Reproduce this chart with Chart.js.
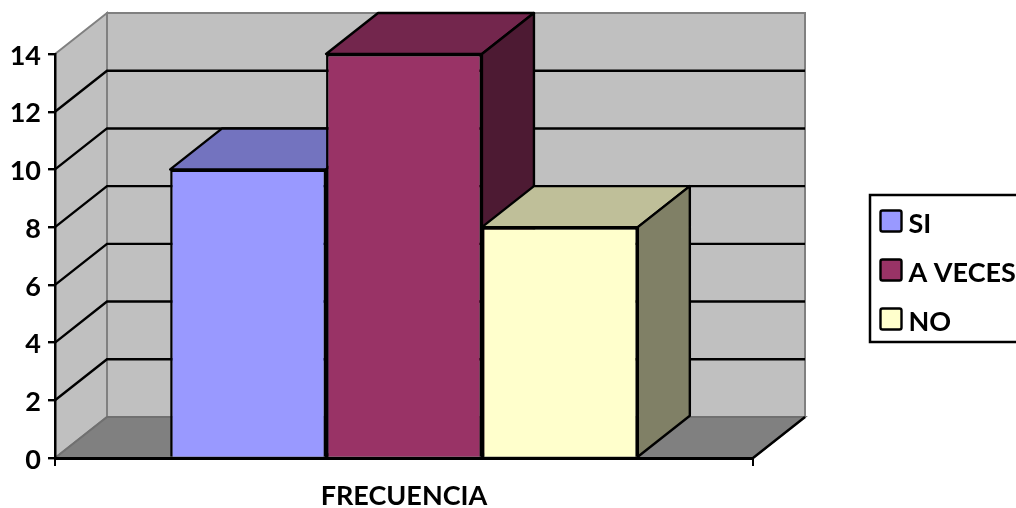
<!DOCTYPE html>
<html>
<head>
<meta charset="utf-8">
<script src="https://cdn.jsdelivr.net/npm/chart.js@4"></script>
<style>
  body { margin: 0; background: #fff; overflow: hidden; }
</style>
</head>
<body>
<canvas id="chart" width="1016" height="508"></canvas>
<script>
const categories = ["FRECUENCIA"];
const seriesNames = ["SI", "A VECES", "NO"];
const siValues = [10];
const aVecesValues = [14];
const noValues = [8];
const seriesColors = ["#9999ff", "#993366", "#ffffcc"];

// depth of the fake 3D box
const DX = 52;
const DY = 41;
const FONT = "bold 27px Lato";

function shade(hex, f) {
  const n = parseInt(hex.slice(1), 16);
  const r = Math.round(((n >> 16) & 255) * f);
  const g = Math.round(((n >> 8) & 255) * f);
  const b = Math.round((n & 255) * f);
  return `rgb(${r},${g},${b})`;
}

function poly(ctx, pts, fill, stroke, width) {
  ctx.beginPath();
  pts.forEach((p, i) => (i ? ctx.lineTo(p[0], p[1]) : ctx.moveTo(p[0], p[1])));
  ctx.closePath();
  if (fill) {
    ctx.fillStyle = fill;
    ctx.fill();
  }
  if (stroke) {
    ctx.strokeStyle = stroke;
    ctx.lineWidth = width;
    ctx.stroke();
  }
}

const box3d = {
  id: "box3d",
  // walls, floor and grid
  beforeDraw(chart) {
    const { ctx, chartArea: a, scales } = chart;
    const y = scales.y;
    ctx.save();
    poly(ctx, [[a.left + DX, a.top - DY], [a.right + DX, a.top - DY], [a.right + DX, a.bottom - DY], [a.left + DX, a.bottom - DY]], "#c0c0c0", "#808080", 2);
    poly(ctx, [[a.left, a.top], [a.left + DX, a.top - DY], [a.left + DX, a.bottom - DY], [a.left, a.bottom]], "#c0c0c0", "#808080", 2);
    poly(ctx, [[a.left, a.bottom], [a.right, a.bottom], [a.right + DX, a.bottom - DY], [a.left + DX, a.bottom - DY]], "#808080", "#707070", 2);

    ctx.strokeStyle = "#000";
    ctx.lineWidth = 2.4;
    y.ticks.forEach((t) => {
      if (t.value === y.min || t.value === y.max) return;
      const py = y.getPixelForValue(t.value);
      ctx.beginPath();
      ctx.moveTo(a.left, py);
      ctx.lineTo(a.left + DX, py - DY);
      ctx.lineTo(a.right + DX, py - DY);
      ctx.stroke();
    });
    ctx.beginPath();
    ctx.moveTo(a.right, a.bottom);
    ctx.lineTo(a.right + DX, a.bottom - DY);
    ctx.stroke();
    ctx.restore();
  },
  // top and side faces of the bars
  beforeDatasetsDraw(chart) {
    const { ctx } = chart;
    ctx.save();
    ctx.lineJoin = "round";
    chart.data.datasets.forEach((ds, i) => {
      const bar = chart.getDatasetMeta(i).data[0];
      const half = bar.width / 2;
      const l = bar.x - half;
      const r = bar.x + half;
      const t = bar.y;
      const b = bar.base;
      poly(ctx, [[l, t], [r, t], [r + DX, t - DY], [l + DX, t - DY]], shade(ds.backgroundColor, 0.75), "#000", 2.4);
      poly(ctx, [[r, t], [r + DX, t - DY], [r + DX, b - DY], [r, b]], shade(ds.backgroundColor, 0.5), "#000", 2.4);
    });
    ctx.restore();
  },
  afterDraw(chart) {
    const { ctx } = chart;
    ctx.save();
    ctx.fillStyle = "#fff";
    ctx.strokeStyle = "#000";
    ctx.lineWidth = 2.5;
    ctx.fillRect(870, 195, 148, 147);
    ctx.strokeRect(870, 195, 148, 147);
    const rows = [221, 270, 319];
    ctx.font = FONT;
    ctx.textBaseline = "middle";
    chart.data.datasets.forEach((ds, i) => {
      ctx.beginPath();
      ctx.roundRect(880.5, rows[i] - 10.5, 21, 21, 2);
      ctx.fillStyle = ds.backgroundColor;
      ctx.fill();
      ctx.lineWidth = 2.4;
      ctx.stroke();
      ctx.fillStyle = "#000";
      ctx.fillText(ds.label, 908.5, rows[i] + 3);
    });
    ctx.restore();
  },
};

new Chart(document.getElementById("chart"), {
  type: "bar",
  data: {
    labels: categories,
    datasets: [
      { label: seriesNames[0], data: siValues, backgroundColor: seriesColors[0] },
      { label: seriesNames[1], data: aVecesValues, backgroundColor: seriesColors[1] },
      { label: seriesNames[2], data: noValues, backgroundColor: seriesColors[2] },
    ],
  },
  options: {
    responsive: false,
    animation: false,
    devicePixelRatio: 1,
    layout: { padding: { top: 54, right: 263, left: 0, bottom: 0 } },
    datasets: {
      bar: {
        borderColor: "#000",
        borderWidth: 2.5,
        categoryPercentage: 0.670,
        barPercentage: 1,
      },
    },
    plugins: {
      legend: { display: false },
      tooltip: { enabled: false },
    },
    scales: {
      x: {
        afterFit(scale) { scale.height = 50; },
        border: { color: "#000", width: 3 },
        grid: { offset: true, drawOnChartArea: false, color: "#000", lineWidth: 2, tickLength: 8 },
        ticks: { color: "#000", font: { family: "Lato", size: 27, weight: "bold" }, padding: 14 },
      },
      y: {
        min: 0,
        max: 14,
        afterFit(scale) { scale.width = 55; },
        border: { color: "#000", width: 2.5 },
        grid: { drawOnChartArea: false, color: "#000", lineWidth: 2.4, tickLength: 7 },
        ticks: { stepSize: 2, color: "#000", font: { family: "Lato", size: 27, weight: "bold" }, padding: 7, labelOffset: 2 },
      },
    },
  },
  plugins: [box3d],
});
</script>
</body>
</html>
